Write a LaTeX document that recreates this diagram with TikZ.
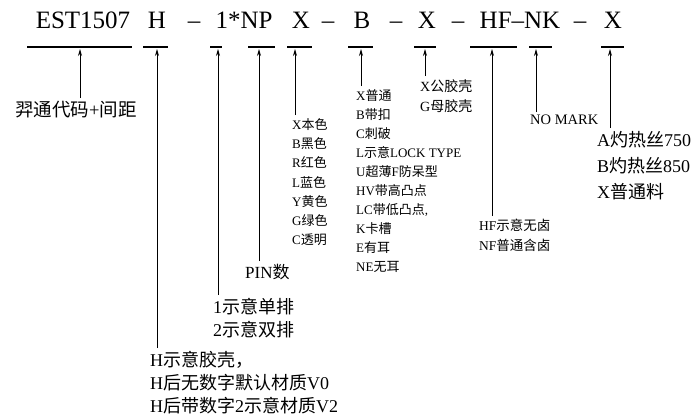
\documentclass[tikz,border=0pt]{standalone}
\usepackage{fontspec}
\setmainfont{Liberation Serif}
\newfontfamily\cjk{Noto Sans CJK SC}
\usetikzlibrary{arrows.meta}
\newcommand{\zh}[1]{{\cjk #1}}
\tikzset{
    code/.style={anchor=base, inner sep=0pt,
        font=\fontsize{25}{25}\selectfont},
    bar/.style={line width=1.6pt},
    pointer/.style={-{Stealth[length=7pt, width=4pt]}, line width=0.8pt,
        shorten <=3pt},
    note/.style={anchor=north west, inner sep=0pt, align=left}
}

\begin{document}
\begin{tikzpicture}[x=1pt, y=-1pt]
	\useasboundingbox (0,0) rectangle (691,416);
	% part number
	\node[code] (est) at (83,28) {EST1507};
	\node[code] (h) at (157,28) {H};
	\node[code] (d1) at (194,28) {--};
	\node[code] (pin) at (244,28) {1*NP};
	\node[code] (x1) at (301,28) {X};
	\node[code] (d2) at (328,28) {--};
	\node[code] (b) at (362,28) {B};
	\node[code] (d3) at (396,28) {--};
	\node[code] (x2) at (427,28) {X};
	\node[code] (d4) at (458,28) {--};
	\node[code] (hfnk) at (520,28) {HF--NK};
	\node[code] (d5) at (580,28) {--};
	\node[code] (x3) at (613,28) {X};

	% underlines
	\draw[bar] (27,47) -- (132,47);  \draw[bar] (143,47) -- (168,47);
	\draw[bar] (210,47) -- (222,47); \draw[bar] (248,47) -- (275,47);
	\draw[bar] (287,47) -- (312,47); \draw[bar] (348,47) -- (373,47);
	\draw[bar] (414,47) -- (436,47); \draw[bar] (470,47) -- (517,47);
	\draw[bar] (529,47) -- (552,47); \draw[bar] (601,47) -- (624,47);

	\coordinate (tEST) at (80,49);  \coordinate (tH) at (157,49);
	\coordinate (tRow) at (218,49); \coordinate (tNP) at (259,49);
	\coordinate (tCol) at (295,49); \coordinate (tB) at (361,49);
	\coordinate (tSex) at (425,49); \coordinate (tHF) at (492,49);
	\coordinate (tNK) at (536,49);  \coordinate (tWire) at (610,49);

	% explanations
	\node[note, font=\fontsize{18.5}{22}\selectfont] (lEST) at (15,101)
		{\zh{羿通代码}+\zh{间距}};
	\node[note, font=\fontsize{18}{23}\selectfont] (lH) at (150,351)
		{H\zh{示意胶壳，}\\H\zh{后无数字默认材质}V0\\H\zh{后带数字}2\zh{示意材质}V2};
	\node[note, font=\fontsize{18}{23}\selectfont] (lRow) at (213,298)
		{1\zh{示意单排}\\2\zh{示意双排}};
	\node[note, font=\fontsize{17}{22}\selectfont] (lNP) at (245,264) {PIN\zh{数}};
	\node[note, font=\fontsize{13}{19.3}\selectfont] (lCol) at (292,118)
		{X\zh{本色}\\B\zh{黑色}\\R\zh{红色}\\L\zh{蓝色}\\Y\zh{黄色}\\G\zh{绿色}\\C\zh{透明}};
	\node[note, font=\fontsize{13}{19}\selectfont] (lB) at (356,89)
		{X\zh{普通}\\B\zh{带扣}\\C\zh{刺破}\\L\zh{示意}LOCK TYPE\\U\zh{超薄}F\zh{防呆型}\\HV\zh{带高凸点}\\LC\zh{带低凸点},\\K\zh{卡槽}\\E\zh{有耳}\\NE\zh{无耳}};
	\node[note, font=\fontsize{14}{20}\selectfont] (lSex) at (420,79)
		{X\zh{公胶壳}\\G\zh{母胶壳}};
	\node[note, font=\fontsize{13.5}{20}\selectfont] (lHF) at (479,219)
		{HF\zh{示意无卤}\\NF\zh{普通含卤}};
	\node[note, font=\fontsize{14.5}{18}\selectfont] (lNK) at (530,115) {NO MARK};
	\node[note, font=\fontsize{18}{26}\selectfont] (lWire) at (597,131)
		{A\zh{灼热丝}750\\B\zh{灼热丝}850\\X\zh{普通料}};

	\draw[pointer] (lEST.north -| tEST) -- (tEST);
	\draw[pointer] (lH.north -| tH) -- (tH);
	\draw[pointer] (lRow.north -| tRow) -- (tRow);
	\draw[pointer] (lNP.north -| tNP) -- (tNP);
	\draw[pointer] (lCol.north -| tCol) -- (tCol);
	\draw[pointer] (lB.north -| tB) -- (tB);
	\draw[pointer] (lSex.north -| tSex) -- (tSex);
	\draw[pointer] (lHF.north -| tHF) -- (tHF);
	\draw[pointer] (lNK.north -| tNK) -- (tNK);
	\draw[pointer] (lWire.north -| tWire) -- (tWire);
\end{tikzpicture}
\end{document}
